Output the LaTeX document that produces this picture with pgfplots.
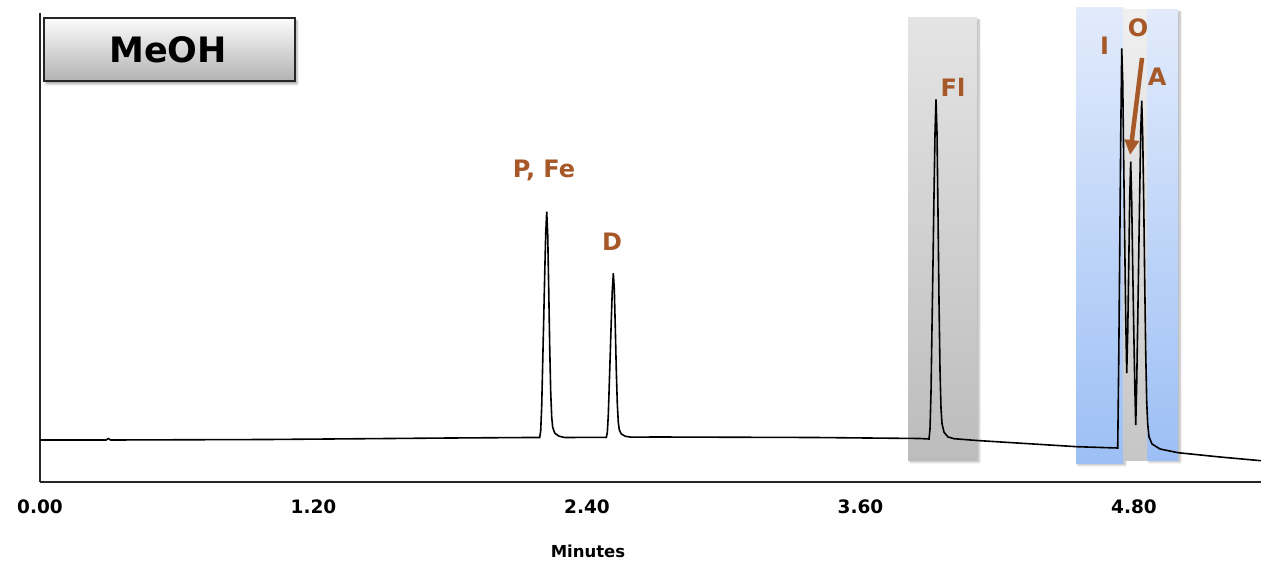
\documentclass[border=0pt]{standalone}
\usepackage{pgfplots}
\pgfplotsset{compat=1.18}
\usepackage{fontspec}
\setmainfont{DejaVu Sans}
\usetikzlibrary{shadows.blur,arrows.meta}
\definecolor{lbl}{RGB}{166,88,40}
\definecolor{gtop}{RGB}{228,228,228}
\definecolor{gbot}{RGB}{188,188,188}
\definecolor{btop}{RGB}{226,235,252}
\definecolor{bbot}{RGB}{156,191,245}
\definecolor{mtop}{RGB}{240,240,240}
\definecolor{mbot}{RGB}{198,198,198}
\definecolor{htop}{RGB}{252,252,252}
\definecolor{hbot}{RGB}{178,178,178}
\begin{document}
\begin{tikzpicture}
\useasboundingbox (0,0) rectangle (1261pt,565pt);
\begin{axis}[
  at={(40pt,83pt)}, anchor=south west,
  scale only axis, width=1221pt, height=469pt,
  xmin=0, xmax=5.3576, ymin=0, ymax=469,
  axis x line=bottom, axis y line=left,
  axis line style={-, line width=1.2pt, black!85},
  clip=false,
  xtick={0,1.2,2.4,3.6,4.8}, ytick=\empty,
  major tick length=0pt,
  /pgf/number format/assume math mode=true,
  xticklabel={\pgfmathprintnumber[fixed,fixed zerofill,precision=2]{\tick}},
  xticklabel style={font=\fontsize{18.5}{20}\selectfont\bfseries, yshift=-14pt},
  xlabel={Minutes},
  xlabel style={font=\fontsize{16.5}{18}\selectfont\bfseries, at={(rel axis cs:0.4488,0)}, anchor=center, yshift=-69pt},
]
% highlight boxes
\path[top color=gtop, bottom color=gbot, blur shadow={shadow xshift=2pt, shadow yshift=-2pt, shadow blur steps=6, shadow opacity=30}]
  (axis cs:3.8087,22) rectangle (axis cs:4.1114,464);
\path[top color=btop, bottom color=bbot, blur shadow={shadow xshift=2pt, shadow yshift=-2pt, shadow blur steps=6, shadow opacity=30}]
  (axis cs:4.5458,19) rectangle (axis cs:4.7521,474);
\path[top color=btop, bottom color=bbot, blur shadow={shadow xshift=2pt, shadow yshift=-2pt, shadow blur steps=6, shadow opacity=30}]
  (axis cs:4.8574,22) rectangle (axis cs:4.9934,472);
\path[top color=mtop, bottom color=mbot]
  (axis cs:4.7521,22) rectangle (axis cs:4.8574,472);
% chromatogram
\addplot[black, line width=1.6pt, no marks] coordinates {
(0,42) (0.29,42) (0.30,43.5) (0.31,42) (1.00,42.5) (1.80,44) (2.15,44.5)
(2.1926,44.5) (2.1970,51.3) (2.2014,76.1) (2.2057,119.0) (2.2101,161.9) (2.2145,207.1) (2.2189,247.7)
(2.2233,270.3) (2.2277,247.7) (2.2321,193.5) (2.2365,134.8) (2.2409,89.7) (2.2453,64.8) (2.2496,54.7)
(2.2584,49.0) (2.2760,45.9) (2.3023,44.5)
(2.4849,44.7) (2.4893,49.6) (2.4937,67.7) (2.4980,98.8) (2.5024,130.0) (2.5068,162.8) (2.5112,192.3)
(2.5156,208.7) (2.5200,192.3) (2.5244,152.9) (2.5288,110.3) (2.5332,77.5) (2.5375,59.5) (2.5419,52.1)
(2.5507,48.0) (2.5683,45.7) (2.5946,44.8)
(2.70,45) (3.40,44.5) (3.86,43.5)
(3.9008,43) (3.9052,53.2) (3.9096,90.6) (3.9139,155.1) (3.9183,219.6) (3.9227,287.6) (3.9271,348.7)
(3.9315,382.7) (3.9359,348.7) (3.9403,267.2) (3.9447,178.9) (3.9491,110.9) (3.9534,73.6) (3.9578,58.3)
(3.9666,49.8) (3.9842,45.0) (4.0105,43.3)
(4.111,41.5) (4.55,35.3) (4.70,34.2)
(4.7288,34) (4.7332,120) (4.7376,230) (4.7420,345) (4.7464,433.7) (4.7508,400) (4.7551,320)
(4.7595,240) (4.7639,165) (4.7683,109) (4.7727,150) (4.7771,215) (4.7815,285) (4.7858,320.3)
(4.7902,280) (4.7946,215) (4.7990,155) (4.8034,100) (4.8078,57) (4.8122,100) (4.8166,160)
(4.8209,225) (4.8253,290) (4.8297,350) (4.8341,381.3) (4.8385,345) (4.8429,280) (4.8473,200)
(4.8516,130) (4.8560,80) (4.8604,58) (4.8661,45) (4.8793,38) (4.9144,33) (4.9934,29.3)
(5.1777,25) (5.3576,21.3)
};
% labels
\begin{scope}[every node/.style={font=\fontsize{24}{26}\selectfont\bfseries, text=lbl}]
\node at (axis cs:2.2115,311.5) {P, Fe};
\node at (axis cs:2.5099,240.5) {D};
\node at (axis cs:4.0061,395) {Fl};
\node at (axis cs:4.6709,436) {I};
\node at (axis cs:4.8179,454) {O};
\node at (axis cs:4.9013,405) {A};
\end{scope}
\draw[lbl, line width=4.5pt, -{Triangle[length=15pt,width=14pt]}] (axis cs:4.8355,424) -- (axis cs:4.7828,327);
% title box
\draw[line width=1.3pt, black!85, top color=htop, bottom color=hbot, blur shadow={shadow xshift=2pt, shadow yshift=-3pt, shadow blur steps=6, shadow opacity=35}]
  (axis cs:0.0176,401) rectangle (axis cs:1.1189,464);
\node[font=\fontsize{35}{38}\selectfont\bfseries] at (axis cs:0.5616,432) {MeOH};
\end{axis}
\end{tikzpicture}
\end{document}
